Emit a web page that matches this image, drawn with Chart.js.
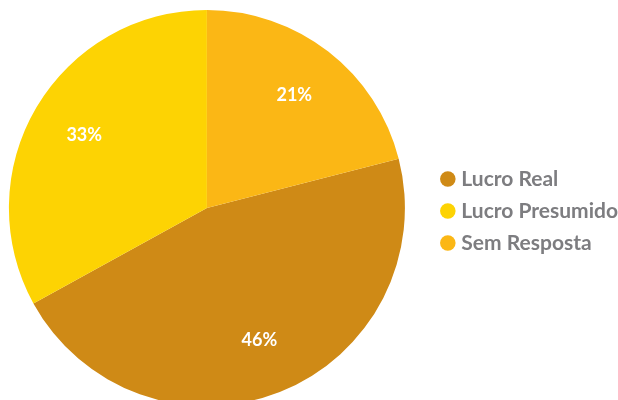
<!DOCTYPE html>
<html>
<head>
<meta charset="utf-8">
<script src="https://cdn.jsdelivr.net/npm/chart.js@4"></script>
<style>
  html, body { margin: 0; padding: 0; background: #fff; overflow: hidden; }
  #wrap { width: 618px; height: 400px; overflow: hidden; }
  #regimeChart { margin-left: -20px; display: block; }
</style>
</head>
<body>
<div id="wrap"><canvas id="regimeChart" width="638" height="416"></canvas></div>
<script>
const labels = ['Lucro Real', 'Lucro Presumido', 'Sem Resposta'];
const values = [46, 33, 21];
const colors = ['#CF8A16', '#FDD303', '#FBB715'];

// "Sem Resposta" starts at 12 o'clock, so turn the pie by its share
const total = values.reduce((a, b) => a + b, 0);
const rotation = values[2] / total * 360;

// percentage text in the middle of each slice
const sliceLabels = {
  id: 'sliceLabels',
  afterDatasetsDraw(chart) {
    const ctx = chart.ctx;
    const meta = chart.getDatasetMeta(0);
    ctx.save();
    ctx.fillStyle = '#ffffff';
    ctx.font = 'bold 18px Lato';
    ctx.textAlign = 'center';
    ctx.textBaseline = 'middle';
    meta.data.forEach((arc, i) => {
      const p = arc.getProps(['x', 'y', 'startAngle', 'endAngle', 'outerRadius'], true);
      const mid = (p.startAngle + p.endAngle) / 2;
      const r = p.outerRadius * 0.72;
      ctx.fillText(values[i] + '%', p.x + Math.cos(mid) * r, p.y + Math.sin(mid) * r);
    });
    ctx.restore();
  }
};

new Chart(document.getElementById('regimeChart'), {
  type: 'pie',
  data: {
    labels: labels,
    datasets: [{
      data: values,
      backgroundColor: colors,
      borderWidth: 0
    }]
  },
  options: {
    responsive: false,
    animation: false,
    rotation: rotation,
    layout: { padding: { top: 10, bottom: 10, left: 0, right: -10 } },
    plugins: {
      tooltip: { enabled: false },
      legend: {
        position: 'right',
        // empty title just nudges the items a little lower
        title: { display: true, text: '', padding: 0, font: { size: 5 } },
        labels: {
          usePointStyle: true,
          pointStyle: 'circle',
          boxWidth: 6,
          boxHeight: 11,
          padding: 11,
          color: '#7d7d80',
          font: { family: 'Lato', size: 21, weight: 'bold' }
        }
      }
    }
  },
  plugins: [sliceLabels]
});
</script>
</body>
</html>
